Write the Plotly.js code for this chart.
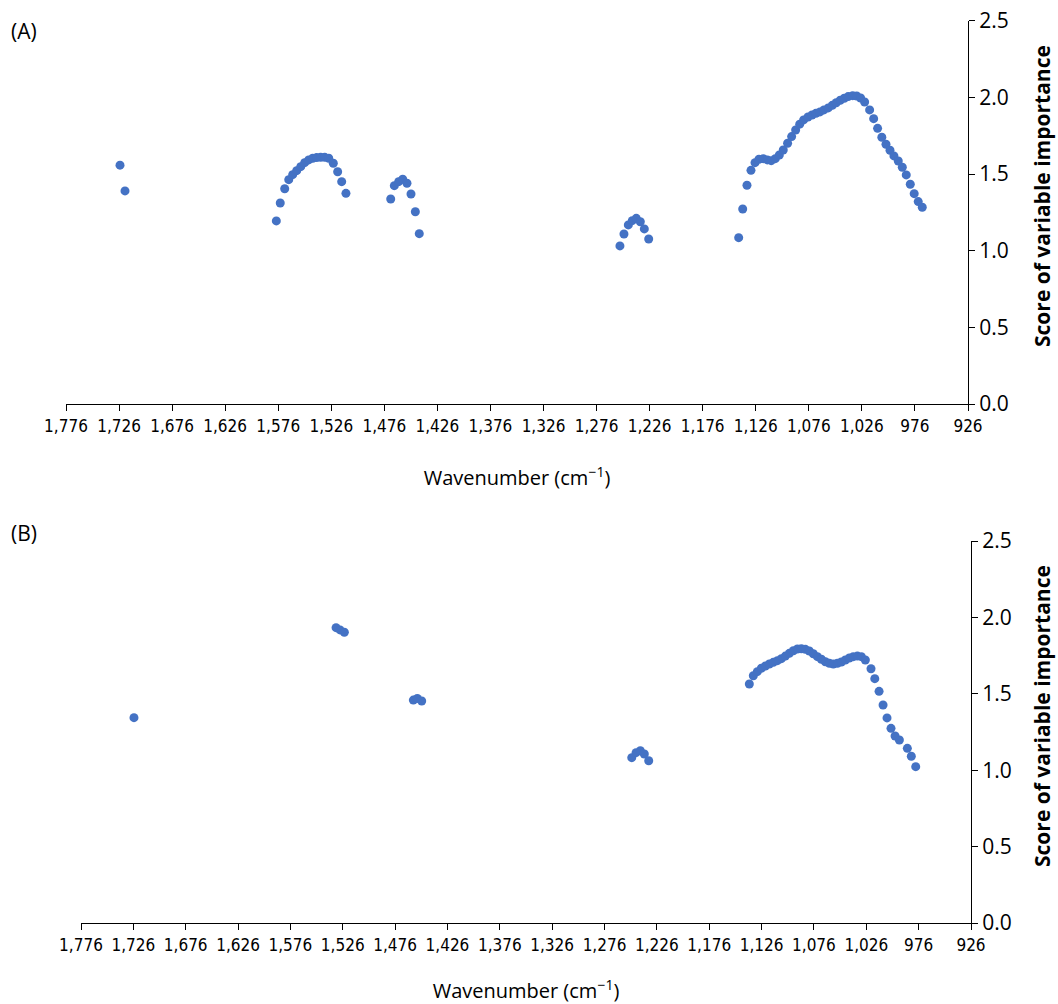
<!DOCTYPE html>
<html>
<head>
<meta charset="utf-8">
<script src="https://cdn.plot.ly/plotly-3.0.1.min.js"></script>
<style>html,body{margin:0;padding:0;background:#fff}#chart{width:1058px;height:1004px}</style>
</head>
<body>
<div id="chart"></div>
<script>
// Panel (A) wavenumbers (cm-1) and VIP scores
const aWavenumber = [
  1725.1, 1720.4,
  1577.8, 1574.1, 1569.9, 1566.1, 1562.4, 1558.6, 1554.8, 1551.1, 1547.3, 1543.5, 1539.8, 1536.0, 1532.2, 1528.4, 1524.1, 1520.0, 1516.2, 1512.2,
  1470.0, 1466.6, 1462.5, 1458.7, 1454.7, 1450.9, 1446.8, 1443.1,
  1254.0, 1250.2, 1246.1, 1242.4, 1238.6, 1234.8, 1231.0, 1226.9,
  1142.1, 1138.3, 1134.3, 1130.5, 1126.7, 1123.0, 1118.9, 1115.1, 1111.4, 1107.6, 1103.8, 1100.1, 1096.0, 1092.2, 1088.4, 1084.6,
  1080.9, 1076.8, 1073.0, 1069.3, 1065.5, 1061.8, 1057.7, 1053.9, 1050.2, 1046.4, 1042.6, 1038.9, 1034.7, 1030.9, 1027.2, 1023.4,
  1018.7, 1014.9, 1011.2, 1007.2, 1003.3, 999.5, 995.8, 991.7, 987.9, 984.2, 980.4, 976.7, 972.9, 969.1
];
const aScore = [
  1.558, 1.390,
  1.194, 1.311, 1.404, 1.463, 1.496, 1.522, 1.548, 1.574, 1.592, 1.603, 1.607, 1.609, 1.609, 1.603, 1.570, 1.515, 1.450, 1.374,
  1.337, 1.424, 1.450, 1.466, 1.440, 1.370, 1.254, 1.111,
  1.031, 1.109, 1.168, 1.196, 1.211, 1.189, 1.142, 1.076,
  1.085, 1.272, 1.427, 1.524, 1.574, 1.596, 1.600, 1.592, 1.587, 1.600, 1.624, 1.657, 1.701, 1.744, 1.787, 1.825,
  1.853, 1.872, 1.885, 1.896, 1.905, 1.918, 1.931, 1.948, 1.965, 1.981, 1.994, 2.005, 2.011, 2.009, 1.996, 1.970,
  1.918, 1.861, 1.798, 1.740, 1.694, 1.655, 1.618, 1.585, 1.544, 1.494, 1.433, 1.372, 1.320, 1.283
];

// Panel (B) wavenumbers (cm-1) and VIP scores
const bWavenumber = [
  1725.4,
  1532.4, 1528.6, 1524.5,
  1458.6, 1454.8, 1450.6,
  1250.0, 1245.9, 1241.8, 1238.0, 1233.8,
  1137.7, 1133.9, 1130.1, 1126.2, 1122.4, 1118.6, 1114.8, 1110.9, 1107.1, 1103.3, 1099.5, 1095.7, 1091.8, 1088.0,
  1084.2, 1080.4, 1076.6, 1072.7, 1068.9, 1065.1, 1061.3, 1057.5, 1053.6, 1049.8, 1046.0, 1042.2, 1038.4, 1034.5,
  1030.7, 1026.9, 1021.5, 1017.9, 1013.8, 1010.0, 1006.2, 1002.4, 998.5, 994.4, 986.8, 983.0, 978.8
];
const bScore = [
  1.344,
  1.933, 1.918, 1.903,
  1.459, 1.470, 1.453,
  1.082, 1.115, 1.128, 1.106, 1.062,
  1.564, 1.618, 1.645, 1.667, 1.682, 1.695, 1.706, 1.717, 1.730, 1.747, 1.765, 1.782, 1.793, 1.795,
  1.791, 1.780, 1.762, 1.743, 1.726, 1.710, 1.700, 1.695, 1.700, 1.708, 1.721, 1.734, 1.743, 1.747,
  1.743, 1.721, 1.664, 1.599, 1.516, 1.427, 1.342, 1.274, 1.224, 1.198, 1.143, 1.091, 1.023
];

const panelLabels = ['(A)', '(B)'];
const xTitle = 'Wavenumber (cm<sup>\u22121</sup>)';
const yTitle = 'Score of variable importance';

const markerColor = '#4472C4';
const baseFont = 'Open Sans, Noto Sans, sans-serif';
const narrowFont = 'Liberation Sans Narrow, DejaVu Sans Condensed, sans-serif';

function xAxis(domain, anchor) {
  return {
    domain: domain, anchor: anchor,
    range: [1776, 926], autorange: false,
    tick0: 926, dtick: 50, tickformat: ',d',
    showgrid: false, zeroline: false,
    showline: true, linecolor: '#000', linewidth: 1.3,
    ticks: 'outside', ticklen: 6, tickwidth: 1.3, tickcolor: '#000',
    tickfont: {family: narrowFont, size: 17, color: '#000'},
    title: {text: xTitle, font: {family: baseFont, size: 20, color: '#000'}, standoff: 36}
  };
}
function yAxis(domain, anchor) {
  return {
    domain: domain, anchor: anchor, side: 'right',
    range: [0, 2.5], autorange: false,
    tick0: 0, dtick: 0.5, tickformat: '.1f',
    showgrid: false, zeroline: false,
    showline: true, linecolor: '#000', linewidth: 1.3,
    ticks: 'outside', ticklen: 6, tickwidth: 1.3, tickcolor: '#000',
    tickfont: {family: baseFont, size: 21, color: '#000'}
  };
}

const traces = [
  {x: aWavenumber, y: aScore, xaxis: 'x', yaxis: 'y', type: 'scatter', mode: 'markers',
   marker: {color: markerColor, size: 9}, hoverinfo: 'x+y'},
  {x: bWavenumber, y: bScore, xaxis: 'x2', yaxis: 'y2', type: 'scatter', mode: 'markers',
   marker: {color: markerColor, size: 9}, hoverinfo: 'x+y'}
];

function yTitleAnn(centerPx) {
  return {text: '<b>' + yTitle + '</b>', xref: 'paper', yref: 'paper',
    x: 1042/1058, y: (1004-centerPx)/1004, xanchor: 'center', yanchor: 'middle',
    textangle: -90, showarrow: false, font: {family: baseFont, size: 21, color: '#000'}};
}

const layout = {
  width: 1058, height: 1004,
  margin: {l: 0, r: 0, t: 0, b: 0},
  paper_bgcolor: '#fff', plot_bgcolor: '#fff',
  showlegend: false,
  font: {family: baseFont, color: '#000'},
  xaxis: xAxis([66/1058, 968/1058], 'y'),
  yaxis: yAxis([(1004-404)/1004, (1004-20.7)/1004], 'x'),
  xaxis2: xAxis([81/1058, 971/1058], 'y2'),
  yaxis2: yAxis([(1004-923)/1004, (1004-541)/1004], 'x2'),
  annotations: [
    {text: panelLabels[0], xref: 'paper', yref: 'paper', x: 9/1058, y: (1004-31)/1004,
     xanchor: 'left', yanchor: 'middle', showarrow: false, font: {family: baseFont, size: 21, color: '#000'}},
    {text: panelLabels[1], xref: 'paper', yref: 'paper', x: 9/1058, y: (1004-533)/1004,
     xanchor: 'left', yanchor: 'middle', showarrow: false, font: {family: baseFont, size: 21, color: '#000'}},
    yTitleAnn(196),
    yTitleAnn(716)
  ]
};

Plotly.newPlot('chart', traces, layout, {displayModeBar: false, responsive: false});
</script>
</body>
</html>
